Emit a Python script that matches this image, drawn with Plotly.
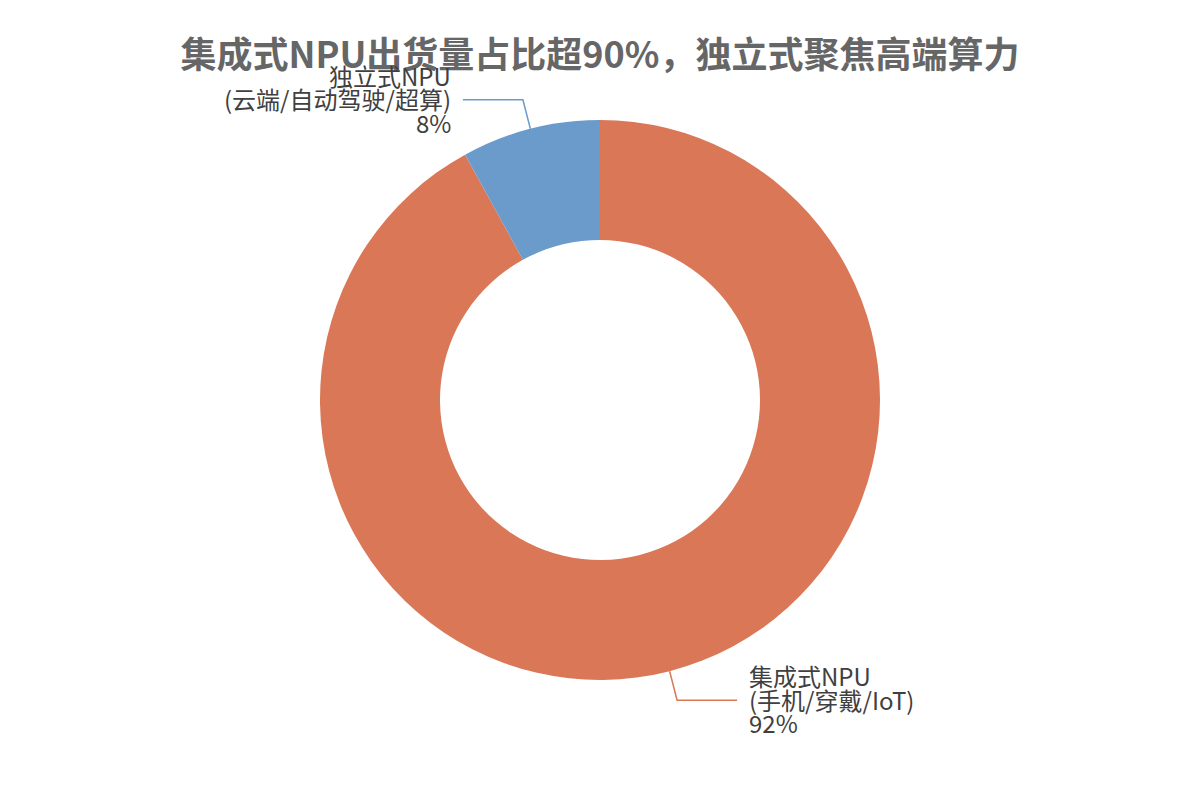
import math
import plotly.graph_objects as go

# ---- data ----
categories = ["集成式NPU", "独立式NPU"]
sublabels = ["(手机/穿戴/IoT)", "(云端/自动驾驶/超算)"]
values = [92, 8]
colors = ["#DA7757", "#6A9BCB"]
title_text = "集成式NPU出货量占比超90%，独立式聚焦高端算力"

W, H = 1200, 800
M_T, M_B = 120, 120
CX, CY = W / 2, M_T + (H - M_T - M_B) / 2
R = (H - M_T - M_B) / 2
HOLE = 160 / 280

fig = go.Figure(go.Pie(
    labels=categories,
    values=values,
    marker=dict(colors=colors, line=dict(width=0)),
    hole=HOLE,
    sort=False,
    direction="clockwise",
    rotation=0,
    textinfo="none",
    hoverinfo="label+percent",
    showlegend=False,
    domain=dict(x=[0, 1], y=[0, 1]),
))

def px2paper(x, y):
    return x / W, (H - M_B - y) / (H - M_T - M_B)

total = sum(values)
cum = 0
shapes = []
annotations = []
FS = 24
LS = 23.5
for cat, sub, v, col in zip(categories, sublabels, values, colors):
    mid = (cum + v / 2) / total * 2 * math.pi
    cum += v
    sx, sy = math.sin(mid), -math.cos(mid)
    p0 = (CX + R * sx, CY + R * sy)
    p1 = (CX + (R + 30) * sx, CY + (R + 30) * sy)
    right = sx >= 0
    p2 = (p1[0] + (60 if right else -60), p1[1])
    path_pts = [px2paper(*p) for p in (p0, p1, p2)]
    path = "M {} {} L {} {} L {} {}".format(
        path_pts[0][0], path_pts[0][1], path_pts[1][0], path_pts[1][1],
        path_pts[2][0], path_pts[2][1])
    shapes.append(dict(type="path", xref="paper", yref="paper", path=path,
                       line=dict(color=col, width=1.5)))
    tx = p2[0] + (10 if right else -10)
    pct = "{}%".format(round(v / total * 100))
    for i, line in enumerate([cat, sub, pct]):
        ly = p2[1] + (i - 1) * LS - 1
        ax, ay = px2paper(tx, ly)
        annotations.append(dict(
            x=ax, y=ay, xref="paper", yref="paper", text=line, showarrow=False,
            xanchor="left" if right else "right", yanchor="middle",
            font=dict(family="Noto Sans CJK SC", size=FS, color="#404040"),
        ))

fig.update_layout(
    width=W, height=H,
    margin=dict(l=0, r=0, t=M_T, b=M_B),
    paper_bgcolor="white", plot_bgcolor="white",
    title=dict(text="<b>" + title_text + "</b>", x=0.5, xanchor="center",
               y=1 - 55 / H, yanchor="middle", yref="container",
               font=dict(family="Noto Sans CJK SC", size=36, color="#666666")),
    shapes=shapes,
    annotations=annotations,
)

fig.write_html("out.html")
